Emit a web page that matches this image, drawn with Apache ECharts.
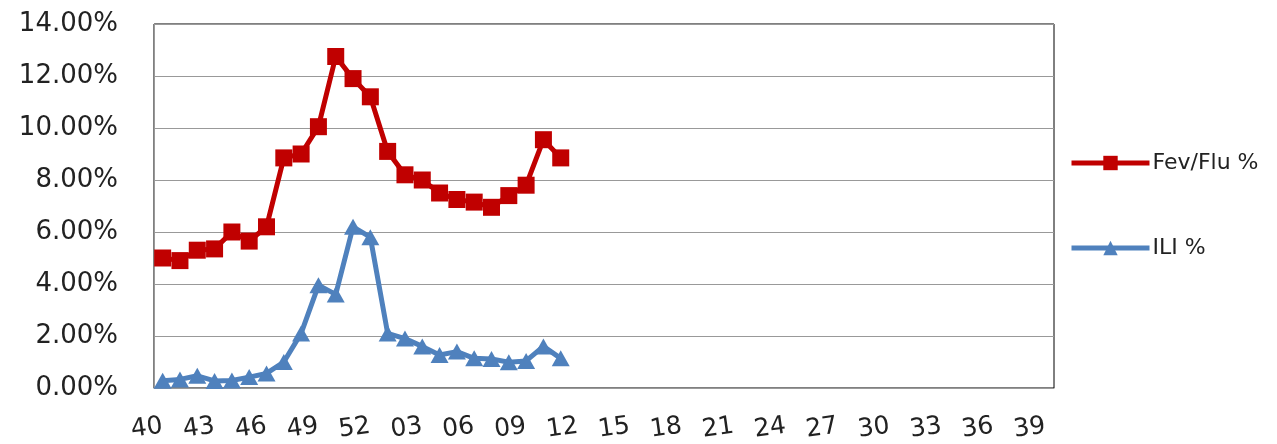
<!DOCTYPE html>
<html>
<head>
<meta charset="utf-8">
<script src="https://cdn.jsdelivr.net/npm/echarts@6/dist/echarts.min.js"></script>
<style>html,body{margin:0;padding:0;background:#fff}#c{width:1277px;height:444px}</style>
</head>
<body>
<div id="c"></div>
<script>
const weeks = ['40','41','42','43','44','45','46','47','48','49','50','51','52',
  '01','02','03','04','05','06','07','08','09','10','11','12','13','14','15','16','17','18','19','20',
  '21','22','23','24','25','26','27','28','29','30','31','32','33','34','35','36','37','38','39'];
const fevFlu = [5.0, 4.9, 5.3, 5.35, 6.0, 5.65, 6.2, 8.85, 9.0, 10.05, 12.75, 11.9, 11.2,
  9.1, 8.2, 8.0, 7.5, 7.25, 7.15, 6.95, 7.4, 7.8, 9.55, 8.85];
const ili = [0.28, 0.33, 0.47, 0.27, 0.29, 0.42, 0.56, 1.0, 2.1, 3.95, 3.6, 6.2, 5.8,
  2.1, 1.9, 1.6, 1.27, 1.4, 1.14, 1.12, 0.99, 1.04, 1.6, 1.14];
const yTicks = {min: 0, max: 14, step: 2};

const chart = echarts.init(document.getElementById('c'), null, {renderer: 'canvas'});
const font = 'DejaVu Sans';
chart.setOption({
  animation: false,
  backgroundColor: '#fff',
  grid: {left: 154, right: 223, top: 24, bottom: 56, show: true, borderColor: '#000', borderWidth: 1,
         backgroundColor: 'transparent', outerBoundsMode: 'none', containLabel: false},
  legend: {
    orient: 'vertical', left: 1064, top: 147, itemWidth: 78, itemHeight: 18, itemGap: 63,
    lineStyle: {width: 5},
    textStyle: {fontFamily: font, fontSize: 22, color: '#222', padding: [0,0,0,-2]},
    data: ['Fev/Flu %', 'ILI %']
  },
  xAxis: {
    type: 'category', data: weeks, boundaryGap: true,
    axisLine: {lineStyle: {color: '#999', width: 1}},
    axisTick: {show: false},
    axisLabel: {interval: 2, rotate: 8, margin: 38, fontFamily: font, fontSize: 25, color: '#222'},
    splitLine: {show: false}
  },
  yAxis: {
    type: 'value', min: yTicks.min, max: yTicks.max, interval: yTicks.step,
    axisLine: {show: true, lineStyle: {color: '#999', width: 1}},
    axisTick: {show: false},
    axisLabel: {margin: 36, fontFamily: font, fontSize: 26, color: '#222', formatter: v => v.toFixed(2) + '%'},
    splitLine: {lineStyle: {color: '#999', width: 1}}
  },
  series: [
    {name: 'Fev/Flu %', type: 'line', data: fevFlu, symbol: 'rect', symbolSize: 17, showAllSymbol: true,
     lineStyle: {color: '#C00000', width: 5}, itemStyle: {color: '#C00000'}},
    {name: 'ILI %', type: 'line', data: ili, symbol: 'triangle', symbolSize: [18, 16], showAllSymbol: true,
     lineStyle: {color: '#4F81BD', width: 5}, itemStyle: {color: '#4F81BD'}}
  ]
});
</script>
</body>
</html>
